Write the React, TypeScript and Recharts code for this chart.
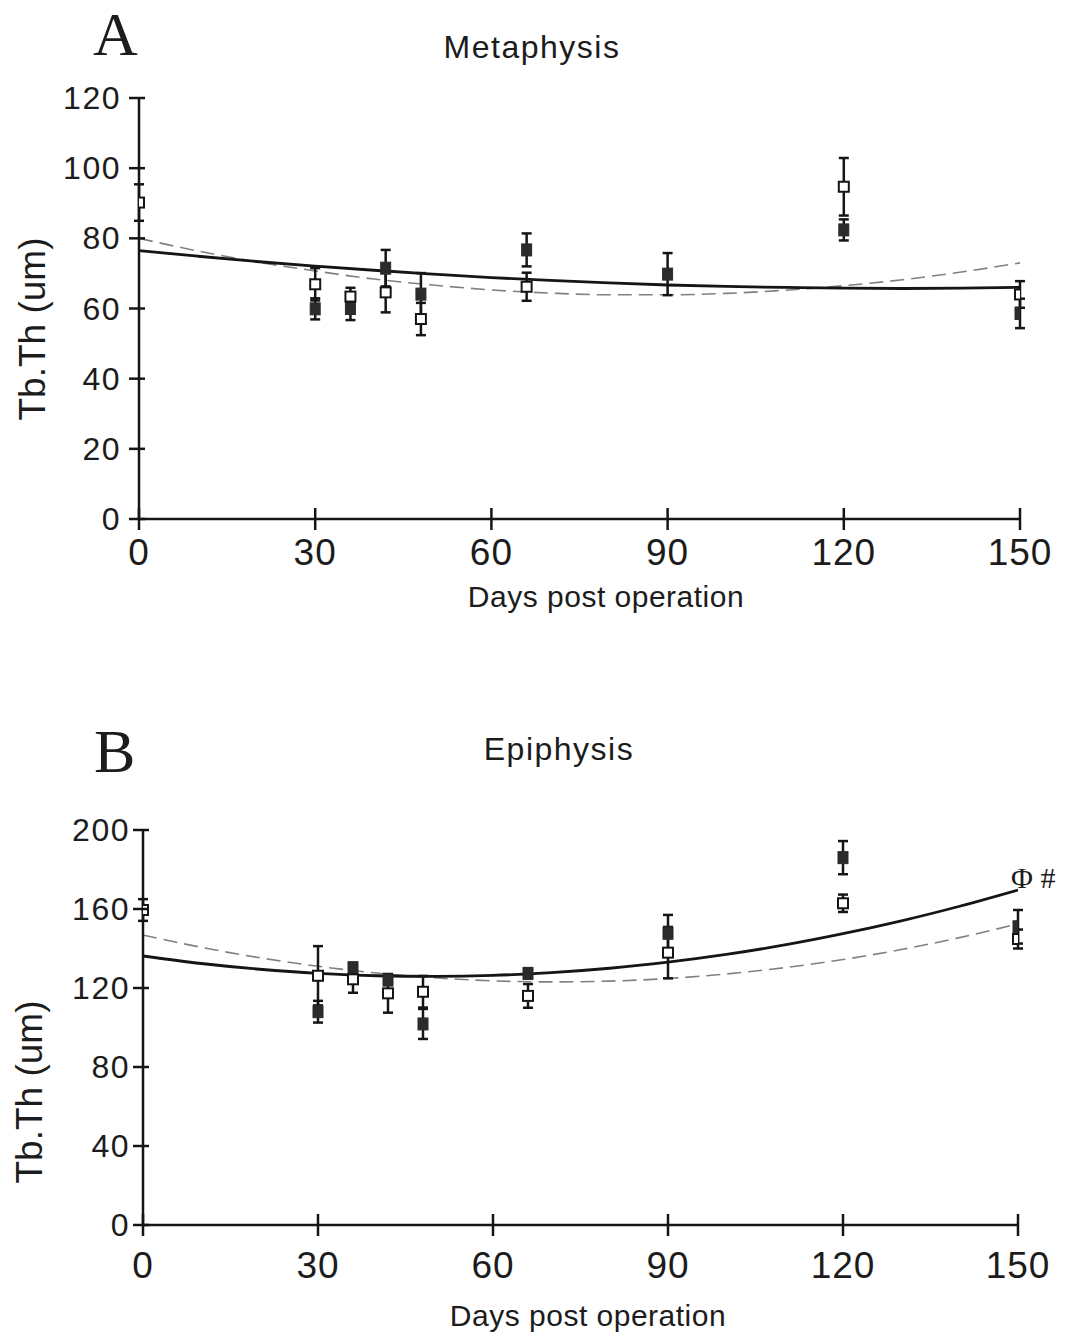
import React from 'react';
import { ComposedChart, Line, Scatter, XAxis, YAxis, ErrorBar } from 'recharts';

// ---------- tick labels ----------
const xTicks = [0, 30, 60, 90, 120, 150];
const yTicksA = [0, 20, 40, 60, 80, 100, 120];
const yTicksB = [0, 40, 80, 120, 160, 200];

// ---------- Panel A: Metaphysis ----------
const aOpenDays = [0, 30, 36, 42, 48, 66, 120, 150];
const aOpenMean = [90.2, 66.9, 63.4, 64.6, 57.0, 66.2, 94.7, 64.0];
const aOpenErr = [5.2, 4.6, 2.5, 5.7, 4.6, 4.0, 8.2, 3.8];

const aFilledDays = [30, 36, 42, 48, 66, 90, 120, 150];
const aFilledMean = [59.9, 60.0, 71.5, 64.1, 76.7, 69.8, 82.4, 58.6];
const aFilledErr = [3.0, 3.3, 5.2, 6.0, 4.7, 6.0, 3.0, 4.2];

const curveDays = [0, 10, 20, 30, 40, 50, 60, 70, 80, 90, 100, 110, 120, 130, 140, 150];
const aSolidFit = [76.5, 74.9, 73.4, 72.1, 70.9, 69.8, 68.8, 68.0, 67.3, 66.7, 66.3, 66.0, 65.8, 65.7, 65.8, 66.0];
const aDashedFit = [80.0, 76.4, 73.3, 70.7, 68.4, 66.7, 65.3, 64.4, 63.9, 63.9, 64.3, 65.2, 66.5, 68.2, 70.4, 73.0];

// ---------- Panel B: Epiphysis ----------
const bOpenDays = [0, 30, 36, 42, 48, 66, 90, 120, 150];
const bOpenMean = [159.5, 126.2, 124.4, 117.3, 118.1, 116.0, 137.9, 162.9, 144.8];
const bOpenErr = [5.5, 15.0, 6.8, 9.8, 8.0, 6.0, 13.0, 4.4, 4.8];

const bFilledDays = [30, 36, 42, 48, 66, 90, 120, 150];
const bFilledMean = [108.0, 130.3, 124.0, 101.8, 127.4, 147.7, 186.0, 151.0];
const bFilledErr = [5.5, 2.0, 2.0, 7.6, 2.5, 9.3, 8.4, 8.5];

const bSolidFit = [136.2, 132.4, 129.5, 127.4, 126.2, 125.9, 126.4, 127.8, 130.0, 133.1, 137.0, 141.8, 147.5, 154.0, 161.4, 169.6];
const bDashedFit = [146.8, 140.6, 135.3, 131.0, 127.6, 125.2, 123.6, 123.1, 123.5, 124.8, 127.1, 130.3, 134.4, 139.5, 145.5, 152.5];

const pts = (xs: number[], ys: number[], es?: number[]) =>
  xs.map((x, i) => ({ x, y: ys[i], e: es ? es[i] : 0 }));

const SANS = 'Liberation Sans, Arial, sans-serif';
const SERIF = 'Liberation Serif, Times New Roman, serif';
const INK = '#151515';
const TXT = '#1c1c1c';

const makeYTick = (gap: number) => (props: any) => {
  const { x, y, payload } = props;
  return (
    <g>
      <line x1={x - 10} x2={x + 6} y1={y} y2={y} stroke={INK} strokeWidth={2.5} />
      <text x={x - gap} y={y} textAnchor="end" dominantBaseline="central" fontSize={32}
        letterSpacing={1.5} fontFamily={SANS} fill={TXT}>{payload.value}</text>
    </g>
  );
};

const makeXTick = (base: number) => (props: any) => {
  const { x, y, payload } = props;
  return (
    <g>
      <line x1={x} x2={x} y1={y - 11} y2={y + 11} stroke={INK} strokeWidth={2.5} />
      <text x={x} y={y + base} textAnchor="middle" fontSize={37} letterSpacing={1}
        fontFamily={SANS} fill={TXT}>{payload.value}</text>
    </g>
  );
};

const OpenSquare = (props: any) => {
  const { cx, cy } = props;
  return <rect x={cx - 5} y={cy - 5} width={10} height={10} fill="#fff" stroke={INK} strokeWidth={2} />;
};
const FilledSquare = (props: any) => {
  const { cx, cy } = props;
  return <rect x={cx - 5} y={cy - 6} width={10} height={12} fill="#2b2b2b" stroke="#2b2b2b" strokeWidth={1} />;
};

type PanelProps = {
  top: number;
  margin: { top: number; right: number; bottom: number; left: number };
  yDomain: [number, number];
  yTicks: number[];
  solid: { x: number; y: number }[];
  dashed: { x: number; y: number }[];
  open: { x: number; y: number; e: number }[];
  filled: { x: number; y: number; e: number }[];
  yGap: number;
  xBase: number;
};

const Panel = ({ top, margin, yDomain, yTicks, solid, dashed, open, filled, yGap, xBase }: PanelProps) => (
  <div style={{ position: 'absolute', left: 0, top }}>
    <ComposedChart width={1069} height={620} margin={margin}>
      <XAxis dataKey="x" type="number" domain={[0, 150]} ticks={xTicks} height={60}
        tickSize={0} tickMargin={0} tick={makeXTick(xBase)}
        axisLine={{ stroke: INK, strokeWidth: 2.5 }} allowDataOverflow />
      <YAxis type="number" domain={yDomain} ticks={yTicks} width={60}
        tickSize={0} tickMargin={0} tick={makeYTick(yGap)}
        axisLine={{ stroke: INK, strokeWidth: 2.5 }} allowDataOverflow />
      <Line data={dashed} dataKey="y" type="monotone" stroke="#808080" strokeWidth={1.6}
        strokeDasharray="14 7" dot={false} isAnimationActive={false} />
      <Line data={solid} dataKey="y" type="monotone" stroke={INK} strokeWidth={2.8}
        dot={false} isAnimationActive={false} />
      <Scatter data={filled} dataKey="y" shape={FilledSquare} isAnimationActive={false}>
        <ErrorBar dataKey="e" direction="y" width={5} stroke={INK} strokeWidth={2.5} />
      </Scatter>
      <Scatter data={open} dataKey="y" shape={OpenSquare} isAnimationActive={false}>
        <ErrorBar dataKey="e" direction="y" width={5} stroke={INK} strokeWidth={2.5} />
      </Scatter>
    </ComposedChart>
  </div>
);

export default function App() {
  return (
    <div style={{ position: 'absolute', left: 0, top: 0, width: 1069, height: 1334, background: '#fff' }}>
      <Panel
        top={0}
        margin={{ top: 98, right: 49, bottom: 41, left: 79 }}
        yDomain={[0, 120]}
        yTicks={yTicksA}
        solid={pts(curveDays, aSolidFit)}
        dashed={pts(curveDays, aDashedFit)}
        open={pts(aOpenDays, aOpenMean, aOpenErr)}
        filled={pts(aFilledDays, aFilledMean, aFilledErr)}
        yGap={18}
        xBase={46}
      />
      <Panel
        top={700}
        margin={{ top: 130, right: 51, bottom: 35, left: 83 }}
        yDomain={[0, 200]}
        yTicks={yTicksB}
        solid={pts(curveDays, bSolidFit)}
        dashed={pts(curveDays, bDashedFit)}
        open={pts(bOpenDays, bOpenMean, bOpenErr)}
        filled={pts(bFilledDays, bFilledMean, bFilledErr)}
        yGap={13}
        xBase={53}
      />
      <svg width={1069} height={1334} style={{ position: 'absolute', left: 0, top: 0, pointerEvents: 'none' }}>
        <text x={93} y={55} fontFamily={SERIF} fontSize={62} fill={TXT}>A</text>
        <text x={532} y={58} textAnchor="middle" fontFamily={SANS} fontSize={32} letterSpacing={1.5} fill={TXT}>Metaphysis</text>
        <text x={45} y={329} transform="rotate(-90 45 329)" textAnchor="middle" fontFamily={SANS} fontSize={37} fill={TXT}>Tb.Th (um)</text>
        <text x={606} y={607} textAnchor="middle" fontFamily={SANS} fontSize={30} letterSpacing={0.5} fill={TXT}>Days post operation</text>

        <text x={94} y={772} fontFamily={SERIF} fontSize={62} fill={TXT}>B</text>
        <text x={559} y={760} textAnchor="middle" fontFamily={SANS} fontSize={32} letterSpacing={1.5} fill={TXT}>Epiphysis</text>
        <text x={42} y={1092} transform="rotate(-90 42 1092)" textAnchor="middle" fontFamily={SANS} fontSize={37} fill={TXT}>Tb.Th (um)</text>
        <text x={588} y={1326} textAnchor="middle" fontFamily={SANS} fontSize={30} letterSpacing={0.5} fill={TXT}>Days post operation</text>

        <text x={1011} y={888} fontFamily={SERIF} fontSize={30} fill={TXT}>Φ #</text>
      </svg>
    </div>
  );
}
